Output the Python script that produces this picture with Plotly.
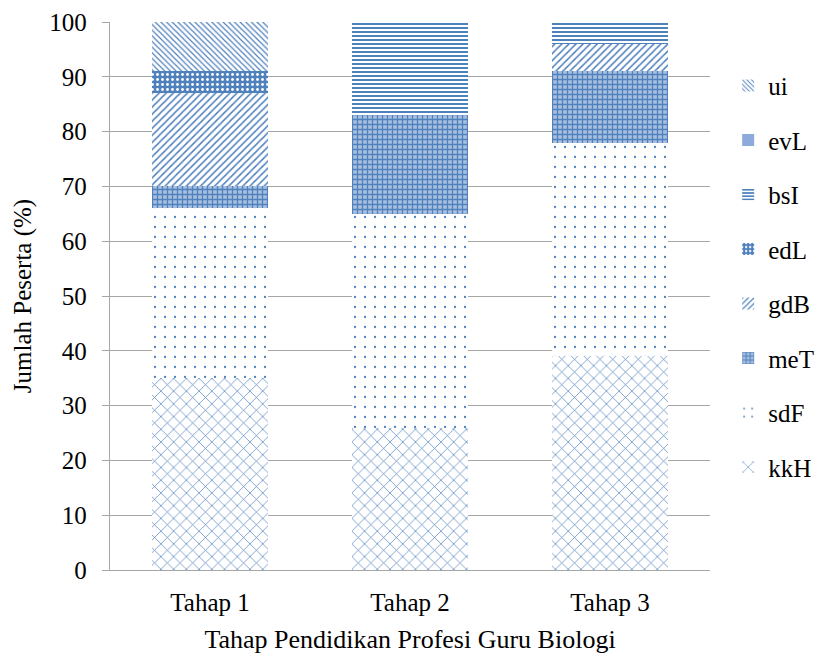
import plotly.graph_objects as go

categories = ["Tahap 1", "Tahap 2", "Tahap 3"]
kkH = [35, 26, 39]
sdF = [31, 39, 39]
meT = [4, 18, 13]
gdB = [17, 0, 5]
edL = [4, 0, 0]
bsI = [0, 17, 4]
evL = [0, 0, 0]
ui = [9, 0, 0]

series = [
    ("kkH", kkH, dict(shape="x", fgcolor="#4F81BD", bgcolor="white", size=9, solidity=0.15)),
    ("sdF", sdF, dict(shape=".", fgcolor="#4F81BD", bgcolor="white", size=10, solidity=0.04)),
    ("meT", meT, dict(shape="+", fgcolor="#4F81BD", bgcolor="#A8BFE0", size=5, solidity=0.45)),
    ("gdB", gdB, dict(shape="/", fgcolor="#4F81BD", bgcolor="white", size=5, solidity=0.3)),
    ("edL", edL, dict(shape=".", fgcolor="white", bgcolor="#4F81BD", size=5, solidity=0.25)),
    ("bsI", bsI, dict(shape="-", fgcolor="#4F81BD", bgcolor="white", size=4, solidity=0.5)),
    ("evL", evL, dict(shape="", fgcolor="#8EA9DB", bgcolor="#8EA9DB")),
    ("ui", ui, dict(shape="\\", fgcolor="#4F81BD", bgcolor="white", size=4, solidity=0.3)),
]

fig = go.Figure()
for i, (name, vals, pat) in enumerate(series):
    if pat["shape"] == "":
        marker = dict(color="#8EA9DB", line=dict(width=0))
    else:
        marker = dict(color=pat["bgcolor"], line=dict(width=0),
                      pattern=dict(shape=pat["shape"], fgcolor=pat["fgcolor"],
                                   bgcolor=pat["bgcolor"], size=pat["size"],
                                   solidity=pat["solidity"], fillmode="replace"))
    fig.add_trace(go.Bar(x=categories, y=vals, name=name, marker=marker,
                         legendgroup=name, legendrank=1000 - i))

fig.update_layout(
    barmode="stack",
    bargap=0.42,
    width=824, height=653,
    paper_bgcolor="white", plot_bgcolor="white",
    margin=dict(l=102, r=122, t=14, b=91, autoexpand=False),
    font=dict(family="Liberation Serif", size=25, color="black"),
    legend=dict(traceorder="grouped", tracegroupgap=19,
                xref="container", yref="container",
                x=0.874, y=0.916, yanchor="top", xanchor="left",
                font=dict(size=25), itemwidth=30, maxheight=620,
                bgcolor="rgba(0,0,0,0)"),
    showlegend=True,
)
fig.update_yaxes(range=[0, 100], dtick=10, showgrid=True, gridcolor="#A6A6A6",
                 gridwidth=1.3, showline=True, linecolor="#A6A6A6", linewidth=1.3,
                 ticks="outside", ticklen=7, tickcolor="#A6A6A6", zeroline=False,
                 ticklabelstandoff=10, automargin=False,
                 title=dict(text="Jumlah Peserta (%)", standoff=10, font=dict(size=25)))
fig.update_xaxes(showline=True, linecolor="#A6A6A6", linewidth=1.3,
                 tickfont=dict(size=25), ticklabelstandoff=10, automargin=False,
                 title=dict(text="Tahap Pendidikan Profesi Guru Biologi", standoff=14,
                            font=dict(size=26)))

fig.write_html("out.html")
